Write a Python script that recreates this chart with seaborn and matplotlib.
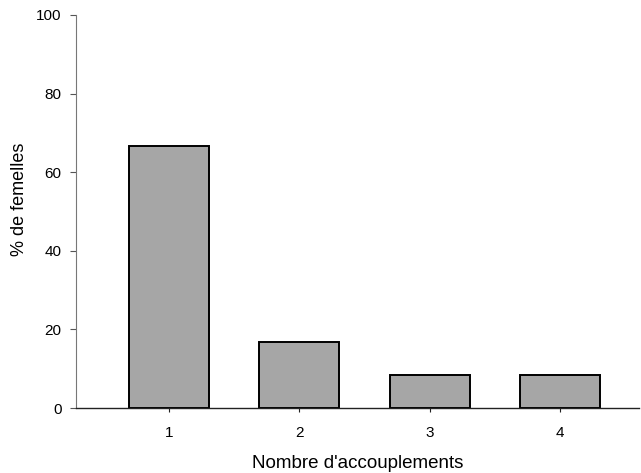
import matplotlib
matplotlib.use("Agg")
import matplotlib.pyplot as plt
import seaborn as sns
import pandas as pd

categories = ["1", "2", "3", "4"]
values = [66.7, 16.7, 8.5, 8.5]

sns.set_theme(style="ticks")
plt.rcParams['font.family'] = ['Liberation Sans', 'DejaVu Sans']
plt.rcParams['text.color'] = 'black'
plt.rcParams['axes.labelcolor'] = 'black'
plt.rcParams['xtick.labelcolor'] = 'black'
plt.rcParams['ytick.labelcolor'] = 'black'

df = pd.DataFrame({"n": categories, "pct": values})

fig = plt.figure(figsize=(6.41, 4.73), dpi=100)
ax = fig.add_axes([0.1186, 0.1374, 0.879, 0.831])
sns.barplot(data=df, x="n", y="pct", color="#a6a6a6", saturation=1,
            edgecolor="black", linewidth=1.4, width=0.615, ax=ax)
ax.set_xlim(-0.713, 3.61)
ax.set_ylim(0, 100)
ax.set_yticks([0, 20, 40, 60, 80, 100])
ax.set_xlabel("Nombre d'accouplements", fontsize=13.5, labelpad=11, color="black")
ax.set_ylabel("% de femelles", fontsize=13, color="black")
ax.yaxis.set_label_coords(-0.085, 0.53)
ax.tick_params(axis='y', labelsize=11, length=4.5, width=0.8, color="#555555", pad=6, labelcolor="black")
ax.tick_params(axis='x', labelsize=11, length=3, width=0.8, pad=10, labelcolor="black", color="#222222")
for s in ["top", "right"]:
    ax.spines[s].set_visible(False)
ax.spines["left"].set_color("#777777")
ax.spines["left"].set_linewidth(0.8)
ax.spines["bottom"].set_color("#222222")
ax.spines["bottom"].set_linewidth(1.0)
fig.savefig("out.png", dpi=100)
